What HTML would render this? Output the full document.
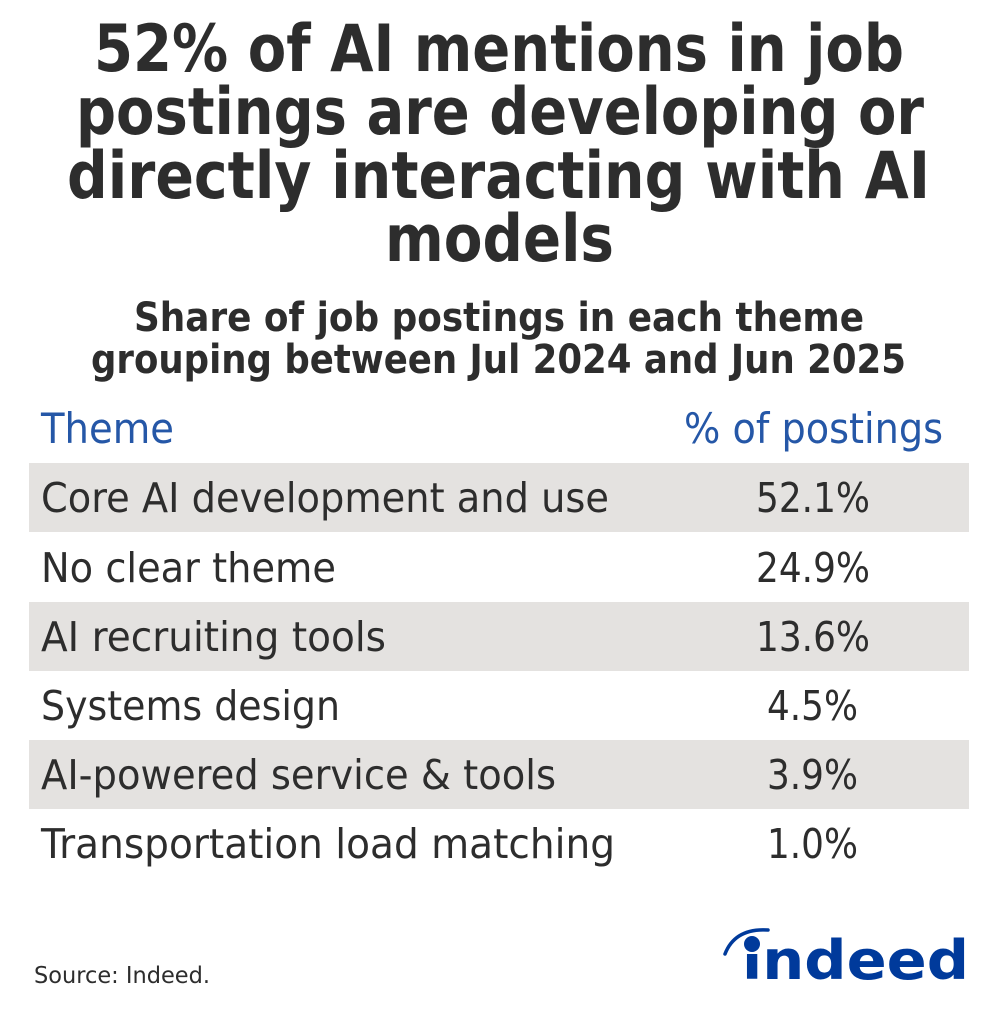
<!DOCTYPE html>
<html>
<head>
<meta charset="utf-8">
<style>
  html, body { margin: 0; padding: 0; background: #ffffff; }
  body { width: 998px; height: 1024px; overflow: hidden; }
  svg { display: block; }
  .t { font-family: "DejaVu Sans", "Liberation Sans", sans-serif; font-weight: bold; fill: #2d2d2d; }
  .r { font-family: "DejaVu Sans", "Liberation Sans", sans-serif; font-weight: normal; fill: #2d2d2d; }
  .h { font-family: "DejaVu Sans", "Liberation Sans", sans-serif; font-weight: normal; fill: #2557a7; }
</style>
</head>
<body>
<svg width="998" height="1024" viewBox="0 0 998 1024" xmlns="http://www.w3.org/2000/svg">
  <rect x="0" y="0" width="998" height="1024" fill="#ffffff"/>

  <!-- Title -->
  <text class="t" font-size="65" x="94" y="71" textLength="810" lengthAdjust="spacingAndGlyphs">52% of AI mentions in job</text>
  <text class="t" font-size="65" x="76" y="134" textLength="848" lengthAdjust="spacingAndGlyphs">postings are developing or</text>
  <text class="t" font-size="65" x="67" y="198" textLength="863" lengthAdjust="spacingAndGlyphs">directly interacting with AI</text>
  <text class="t" font-size="65" x="385" y="261" textLength="229" lengthAdjust="spacingAndGlyphs">models</text>

  <!-- Subtitle -->
  <text class="t" font-size="40" x="134" y="331" textLength="730" lengthAdjust="spacingAndGlyphs">Share of job postings in each theme</text>
  <text class="t" font-size="40" x="91" y="373" textLength="815" lengthAdjust="spacingAndGlyphs">grouping between Jul 2024 and Jun 2025</text>

  <!-- Header -->
  <text class="h" font-size="42" x="41" y="443" textLength="133" lengthAdjust="spacingAndGlyphs">Theme</text>
  <text class="h" font-size="42" x="684" y="443" textLength="259" lengthAdjust="spacingAndGlyphs">% of postings</text>

  <!-- Row backgrounds -->
  <rect x="29" y="463" width="940" height="69" fill="#e4e2e0"/>
  <rect x="29" y="602" width="940" height="69" fill="#e4e2e0"/>
  <rect x="29" y="740" width="940" height="69" fill="#e4e2e0"/>

  <!-- Rows -->
  <text class="r" font-size="41" x="41" y="512" textLength="568" lengthAdjust="spacingAndGlyphs">Core AI development and use</text>
  <text class="r" font-size="41" x="756" y="512" textLength="114" lengthAdjust="spacingAndGlyphs">52.1%</text>

  <text class="r" font-size="41" x="41" y="582" textLength="295" lengthAdjust="spacingAndGlyphs">No clear theme</text>
  <text class="r" font-size="41" x="756" y="582" textLength="114" lengthAdjust="spacingAndGlyphs">24.9%</text>

  <text class="r" font-size="41" x="41" y="651" textLength="345" lengthAdjust="spacingAndGlyphs">AI recruiting tools</text>
  <text class="r" font-size="41" x="756" y="651" textLength="114" lengthAdjust="spacingAndGlyphs">13.6%</text>

  <text class="r" font-size="41" x="41" y="720" textLength="299" lengthAdjust="spacingAndGlyphs">Systems design</text>
  <text class="r" font-size="41" x="767" y="720" textLength="91" lengthAdjust="spacingAndGlyphs">4.5%</text>

  <text class="r" font-size="41" x="41" y="789" textLength="515" lengthAdjust="spacingAndGlyphs">AI-powered service &amp; tools</text>
  <text class="r" font-size="41" x="767" y="789" textLength="91" lengthAdjust="spacingAndGlyphs">3.9%</text>

  <text class="r" font-size="41" x="41" y="858" textLength="574" lengthAdjust="spacingAndGlyphs">Transportation load matching</text>
  <text class="r" font-size="41" x="767" y="858" textLength="91" lengthAdjust="spacingAndGlyphs">1.0%</text>

  <!-- Source -->
  <text class="r" font-size="23" x="34" y="983" textLength="176" lengthAdjust="spacingAndGlyphs">Source: Indeed.</text>

  <!-- Indeed logo -->
  <text font-family="DejaVu Sans, Liberation Sans, sans-serif" font-weight="bold" font-size="54" fill="#003a9b" x="742" y="979" textLength="227" lengthAdjust="spacingAndGlyphs">indeed</text>
  <rect x="740" y="926" width="26" height="28" fill="#ffffff"/>
  <circle cx="752" cy="944" r="8" fill="#003a9b"/>
  <path d="M725 954 Q735 928 768 930" stroke="#003a9b" stroke-width="3.5" fill="none" stroke-linecap="round"/>
</svg>
</body>
</html>
